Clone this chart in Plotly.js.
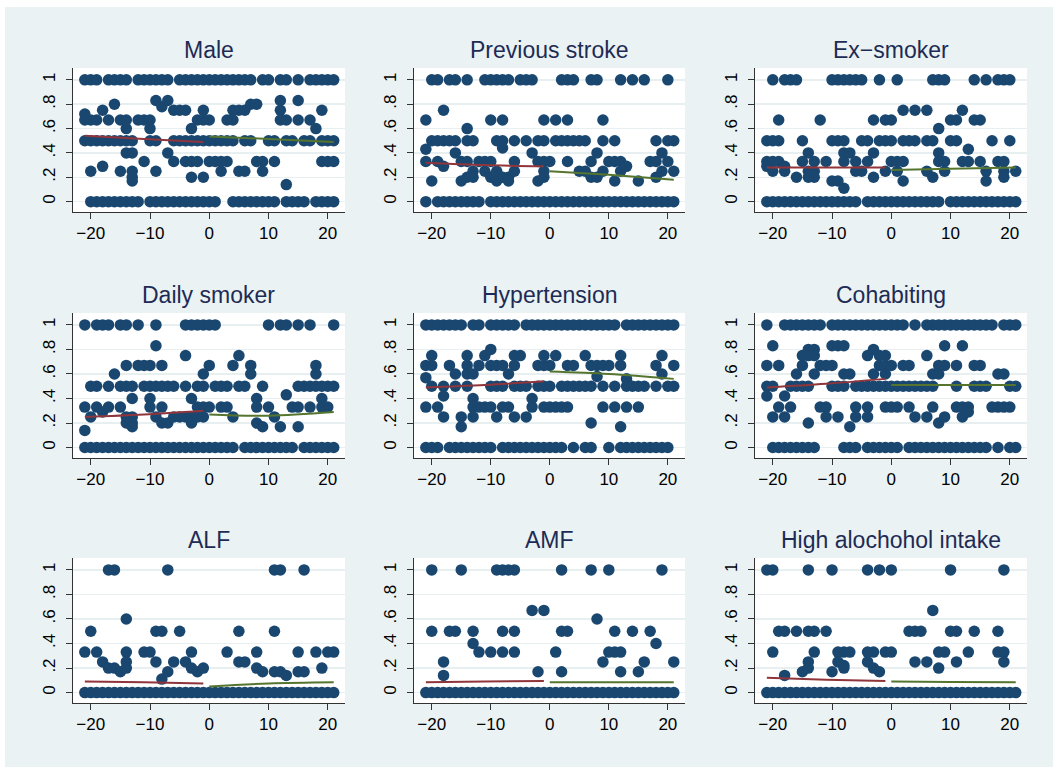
<!DOCTYPE html>
<html><head><meta charset="utf-8">
<script src="https://cdn.plot.ly/plotly-3.0.1.min.js"></script>
<style>html,body{margin:0;padding:0;background:#fff}#chart{width:1053px;height:767px}</style>
</head><body><div id="chart"></div>
<script>
// ---------- data ----------
const titles = ['Male','Previous stroke','Ex\u2212smoker','Daily smoker','Hypertension','Cohabiting','ALF','AMF','High alochohol intake'];
const xTickVals = [-20,-10,0,10,20];
const yTickVals = [0,0.2,0.4,0.6,0.8,1];
const yTickText = ['0','.2','.4','.6','.8','1'];
const fitLeftX = [-21,-11,-1];
const fitRightX = [0,10,21];

// Male
const maleOnes = [-21,-20,-19,-17,-16,-15,-14,-12,-11,-10,-9,-8,-7,-5,-4,-3,-2,-1,0,1,2,3,4,5,6,7,9,10,12,13,15,17,18,19,20,21];
const maleZeros = [-20,-19,-18,-17,-16,-15,-14,-13,-12,-10,-9,-8,-7,-6,-5,-4,-3,-2,-1,0,1,4,5,6,7,8,9,10,11,13,14,15,16,18,19,20,21];
const maleMid = [[-21,.72],[-21,.67],[-21,.5],[-20,.67],[-20,.5],[-20,.25],[-19,.67],[-19,.5],[-18,.75],[-18,.5],[-18,.29],[-17,.67],[-17,.5],[-16,.8],[-16,.5],[-15,.67],[-15,.5],[-15,.25],[-14,.67],[-14,.6],[-14,.5],[-14,.4],[-13,.5],[-13,.4],[-13,.25],[-13,.2],[-13,.17],[-12,.67],[-11,.67],[-11,.33],[-10,.67],[-10,.6],[-10,.5],[-9,.83],[-9,.5],[-9,.25],[-8,.78],[-7,.83],[-7,.4],[-6,.75],[-6,.5],[-6,.33],[-5,.75],[-5,.5],[-4,.75],[-4,.5],[-4,.33],[-3,.6],[-3,.5],[-3,.33],[-3,.2],[-2,.67],[-2,.5],[-2,.33],[-1,.75],[-1,.67],[-1,.5],[-1,.2],[0,.67],[0,.5],[0,.33],[1,.5],[1,.33],[2,.5],[2,.33],[2,.25],[3,.67],[3,.5],[3,.33],[4,.75],[4,.67],[4,.5],[5,.75],[5,.25],[6,.75],[6,.5],[6,.25],[7,.8],[7,.5],[8,.8],[8,.33],[9,.33],[9,.25],[10,.5],[11,.5],[11,.33],[12,.83],[12,.75],[12,.67],[13,.67],[13,.5],[13,.14],[14,.5],[15,.83],[15,.67],[16,.5],[17,.67],[17,.5],[18,.6],[19,.75],[19,.5],[19,.33],[20,.5],[20,.33],[21,.5],[21,.33]];
const maleFitL = [.54,.515,.49];
const maleFitR = [.535,.515,.49];

// Previous stroke
const strokeOnes = [-20,-19,-17,-16,-14,-11,-10,-9,-8,-7,-5,-4,-3,2,3,4,7,8,12,14,16,20];
const strokeZeros = [-21,-19,-18,-17,-16,-15,-14,-13,-12,-10,-9,-8,-7,-6,-5,-4,-3,-2,-1,0,1,2,3,4,5,6,7,8,9,10,11,12,13,14,15,16,17,18,19,20,21];
const strokeMid = [[-21,.67],[-21,.43],[-21,.33],[-20,.5],[-20,.17],[-19,.5],[-19,.33],[-18,.75],[-18,.5],[-18,.29],[-17,.5],[-16,.5],[-16,.4],[-15,.33],[-15,.17],[-14,.6],[-14,.5],[-14,.33],[-14,.2],[-13,.5],[-13,.25],[-13,.2],[-12,.33],[-11,.33],[-11,.25],[-10,.67],[-10,.33],[-10,.2],[-9,.5],[-9,.25],[-9,.17],[-8,.67],[-8,.5],[-8,.44],[-8,.2],[-7,.2],[-7,.17],[-6,.5],[-6,.33],[-6,.25],[-4,.5],[-3,.4],[-2,.5],[-2,.33],[-2,.17],[-1,.67],[-1,.5],[-1,.33],[-1,.25],[-1,.2],[0,.33],[1,.67],[1,.5],[2,.5],[3,.67],[3,.5],[3,.33],[4,.5],[5,.5],[5,.25],[6,.5],[6,.25],[7,.33],[7,.2],[8,.4],[8,.2],[9,.67],[9,.5],[9,.25],[10,.33],[11,.5],[11,.33],[11,.17],[12,.33],[12,.25],[13,.29],[15,.17],[17,.33],[18,.5],[18,.33],[18,.2],[19,.4],[19,.25],[20,.5],[20,.33],[21,.5],[21,.25]];
const strokeFitL = [.32,.30,.29];
const strokeFitR = [.25,.22,.18];

// Ex-smoker
const exOnes = [-20,-18,-17,-16,-10,-9,-8,-7,-6,-5,-2,1,7,8,9,14,16,18,19,20];
const exZeros = [-21,-20,-19,-18,-17,-16,-15,-14,-13,-12,-11,-10,-9,-8,-7,-6,-4,-3,-2,-1,0,1,2,3,4,5,6,7,8,10,11,12,13,14,15,16,17,18,19,20,21];
const exMid = [[-21,.5],[-21,.33],[-21,.29],[-20,.5],[-20,.33],[-20,.25],[-19,.67],[-19,.5],[-19,.33],[-18,.29],[-18,.25],[-16,.2],[-15,.5],[-15,.33],[-14,.4],[-14,.25],[-14,.2],[-13,.33],[-13,.25],[-13,.2],[-12,.67],[-11,.33],[-10,.5],[-10,.17],[-9,.5],[-9,.17],[-8,.5],[-8,.4],[-8,.33],[-8,.11],[-7,.4],[-6,.33],[-6,.25],[-5,.5],[-5,.25],[-4,.5],[-4,.33],[-3,.67],[-3,.4],[-3,.2],[-2,.5],[-1,.67],[-1,.5],[-1,.25],[0,.67],[0,.5],[0,.33],[1,.33],[1,.25],[2,.75],[2,.5],[2,.33],[2,.17],[3,.5],[4,.75],[4,.5],[6,.75],[6,.5],[6,.25],[7,.5],[7,.2],[8,.6],[8,.4],[8,.33],[9,.33],[9,.25],[10,.67],[10,.5],[11,.67],[11,.5],[12,.75],[12,.33],[13,.43],[13,.33],[14,.67],[15,.67],[15,.33],[16,.25],[16,.17],[17,.5],[18,.33],[19,.33],[19,.25],[19,.2],[20,.5],[21,.25]];
const exFitL = [.28,.28,.28];
const exFitR = [.26,.27,.28];

// Daily smoker
const dailyOnes = [-21,-19,-18,-17,-15,-14,-12,-9,-4,-3,-2,-1,0,1,10,12,13,15,17,21];
const dailyZeros = [-21,-20,-19,-18,-17,-16,-15,-14,-13,-12,-11,-10,-9,-8,-7,-6,-5,-4,-3,-2,-1,0,1,2,3,4,6,7,8,9,10,11,12,13,14,16,17,18,19,20,21];
const dailyMid = [[-21,.33],[-21,.14],[-20,.5],[-20,.25],[-19,.5],[-19,.33],[-18,.29],[-17,.5],[-17,.33],[-16,.6],[-15,.5],[-15,.33],[-14,.67],[-14,.5],[-14,.25],[-14,.2],[-13,.5],[-13,.4],[-13,.25],[-13,.2],[-13,.17],[-12,.67],[-11,.67],[-11,.5],[-10,.67],[-10,.5],[-10,.4],[-10,.33],[-9,.83],[-9,.5],[-9,.25],[-8,.67],[-8,.5],[-8,.33],[-8,.2],[-7,.5],[-7,.2],[-6,.5],[-6,.25],[-5,.25],[-4,.75],[-4,.5],[-4,.25],[-3,.4],[-3,.25],[-3,.2],[-2,.5],[-2,.33],[-2,.25],[-1,.6],[-1,.5],[-1,.33],[-1,.25],[0,.67],[0,.33],[1,.5],[2,.5],[2,.33],[3,.5],[3,.33],[4,.67],[4,.25],[5,.75],[5,.5],[6,.5],[7,.67],[7,.6],[8,.4],[8,.33],[8,.2],[9,.5],[9,.17],[10,.33],[11,.25],[12,.17],[13,.43],[14,.33],[15,.5],[15,.33],[15,.17],[16,.5],[17,.5],[17,.33],[18,.67],[18,.6],[18,.5],[19,.5],[19,.4],[19,.33],[20,.5],[20,.33],[21,.5]];
const dailyFitL = [.25,.27,.30];
const dailyFitR = [.27,.26,.29];

// Hypertension
const hyperOnes = [-21,-20,-19,-18,-17,-16,-15,-13,-12,-10,-9,-8,-7,-6,-4,-3,-2,-1,0,1,2,3,4,5,6,7,8,9,10,11,13,14,15,16,17,18,19,20,21];
const hyperZeros = [-21,-20,-19,-17,-16,-15,-14,-13,-12,-11,-10,-8,-7,-6,-5,-4,-3,-2,-1,0,1,2,4,6,7,10,12,13,14,15,16,17,18,19,20];
const hyperMid = [[-21,.67],[-21,.57],[-21,.33],[-20,.75],[-20,.67],[-20,.5],[-19,.33],[-18,.5],[-18,.42],[-18,.25],[-17,.67],[-16,.6],[-16,.5],[-15,.25],[-15,.17],[-14,.75],[-14,.67],[-14,.6],[-14,.5],[-13,.6],[-13,.4],[-13,.33],[-13,.25],[-12,.67],[-12,.33],[-11,.75],[-11,.33],[-10,.8],[-10,.67],[-10,.5],[-10,.33],[-9,.67],[-9,.5],[-9,.25],[-8,.67],[-8,.5],[-8,.33],[-7,.6],[-7,.33],[-6,.75],[-6,.67],[-6,.5],[-6,.25],[-5,.75],[-5,.5],[-4,.5],[-4,.25],[-3,.4],[-3,.33],[-2,.67],[-2,.5],[-1,.75],[-1,.67],[-1,.5],[-1,.33],[0,.67],[0,.5],[0,.33],[1,.75],[1,.33],[2,.5],[2,.33],[3,.67],[3,.5],[3,.33],[4,.67],[4,.5],[5,.5],[6,.75],[6,.5],[7,.67],[7,.5],[7,.2],[8,.67],[8,.58],[9,.67],[9,.5],[9,.33],[10,.67],[11,.5],[11,.33],[12,.75],[12,.67],[12,.17],[13,.56],[13,.5],[13,.33],[14,.5],[15,.5],[15,.33],[16,.5],[18,.67],[18,.5],[19,.75],[19,.6],[20,.5],[21,.67],[21,.5]];
const hyperFitL = [.49,.51,.54];
const hyperFitR = [.62,.60,.56];

// Cohabiting
const cohabOnes = [-21,-18,-17,-16,-15,-14,-13,-12,-10,-9,-8,-7,-6,-5,-4,-3,-2,-1,0,1,2,4,6,7,8,9,10,11,12,13,14,15,16,17,19,20,21];
const cohabZeros = [-20,-19,-18,-17,-16,-15,-14,-13,-8,-7,-6,-4,-3,-2,-1,0,1,3,4,5,6,7,8,9,10,11,12,13,14,15,16,18,20,21];
const cohabMid = [[-21,.67],[-21,.5],[-21,.42],[-20,.83],[-20,.5],[-20,.25],[-19,.67],[-19,.33],[-18,.42],[-18,.25],[-17,.5],[-17,.33],[-16,.6],[-16,.5],[-15,.75],[-15,.67],[-15,.5],[-14,.8],[-14,.75],[-14,.5],[-14,.2],[-13,.8],[-13,.75],[-13,.6],[-12,.67],[-12,.33],[-11,.67],[-11,.33],[-11,.25],[-10,.83],[-10,.67],[-10,.5],[-9,.83],[-9,.5],[-9,.25],[-8,.83],[-8,.6],[-8,.5],[-7,.6],[-7,.17],[-6,.5],[-6,.33],[-6,.25],[-5,.5],[-4,.75],[-4,.5],[-4,.33],[-4,.25],[-3,.8],[-3,.6],[-3,.5],[-2,.75],[-2,.67],[-2,.5],[-1,.75],[-1,.67],[-1,.6],[-1,.5],[-1,.33],[0,.67],[0,.5],[0,.33],[1,.5],[1,.33],[2,.67],[2,.5],[3,.67],[3,.5],[3,.33],[4,.5],[4,.25],[5,.5],[6,.75],[6,.5],[6,.25],[7,.6],[7,.5],[7,.33],[8,.67],[8,.6],[8,.2],[9,.83],[9,.67],[9,.25],[11,.67],[11,.5],[11,.33],[12,.83],[12,.33],[12,.25],[13,.33],[13,.29],[14,.67],[14,.5],[15,.67],[15,.5],[16,.5],[17,.33],[18,.6],[18,.33],[19,.6],[19,.33],[20,.5],[20,.33],[21,.5]];
const cohabFitL = [.49,.52,.56];
const cohabFitR = [.51,.51,.51];

// ALF
const alfOnes = [-17,-16,-7,11,12,16];
const alfZeros = [-21,-20,-19,-18,-17,-16,-15,-14,-13,-12,-11,-10,-9,-8,-7,-6,-5,-4,-3,-2,-1,0,1,2,3,4,5,6,7,8,9,10,11,12,13,14,15,16,17,18,19,20,21];
const alfMid = [[-21,.33],[-20,.5],[-19,.33],[-18,.25],[-17,.2],[-16,.2],[-15,.17],[-14,.6],[-14,.33],[-14,.25],[-14,.2],[-11,.33],[-10,.33],[-9,.5],[-9,.25],[-8,.5],[-8,.11],[-7,.17],[-6,.25],[-5,.5],[-4,.25],[-3,.33],[-3,.2],[-2,.17],[-1,.2],[3,.33],[5,.5],[5,.25],[6,.25],[8,.33],[8,.2],[9,.17],[11,.5],[11,.17],[12,.17],[13,.14],[15,.33],[15,.17],[16,.17],[18,.33],[19,.2],[20,.33],[21,.33]];
const alfFitL = [.09,.085,.075];
const alfFitR = [.05,.075,.085];

// AMF
const amfOnes = [-20,-15,-9,-8,-7,-6,2,7,10,19];
const amfZeros = [-21,-20,-19,-18,-17,-16,-15,-14,-13,-12,-11,-10,-9,-8,-7,-6,-5,-4,-3,-2,-1,0,1,2,3,4,5,6,7,8,9,10,11,12,13,14,15,16,17,18,19,20,21];
const amfMid = [[-20,.5],[-18,.25],[-18,.14],[-17,.5],[-16,.5],[-13,.5],[-13,.4],[-12,.33],[-10,.33],[-8,.5],[-8,.33],[-6,.5],[-6,.33],[-3,.67],[-2,.17],[-1,.67],[1,.33],[2,.5],[2,.17],[3,.5],[8,.6],[9,.25],[10,.33],[11,.5],[11,.33],[12,.33],[12,.17],[14,.5],[15,.17],[16,.25],[17,.5],[18,.4],[21,.25]];
const amfFitL = [.085,.09,.095];
const amfFitR = [.085,.085,.085];

// High alcohol intake
const alcOnes = [-21,-20,-14,-10,-4,-2,0,10,19];
const alcZeros = [-21,-20,-19,-18,-17,-16,-15,-14,-13,-12,-11,-10,-9,-8,-7,-6,-5,-4,-3,-2,-1,0,1,2,3,4,5,6,7,8,9,10,11,12,13,14,15,16,17,18,19,20,21];
const alcMid = [[-20,.33],[-19,.5],[-18,.5],[-18,.14],[-16,.5],[-15,.17],[-14,.5],[-14,.25],[-14,.2],[-13,.5],[-13,.33],[-11,.5],[-10,.17],[-9,.33],[-9,.25],[-8,.33],[-8,.22],[-8,.2],[-7,.33],[-4,.33],[-4,.25],[-3,.33],[-3,.2],[-2,.17],[-1,.33],[0,.33],[3,.5],[4,.5],[4,.25],[5,.5],[6,.25],[7,.67],[8,.33],[8,.2],[9,.33],[10,.5],[11,.5],[11,.25],[13,.33],[14,.5],[18,.5],[18,.33],[19,.33],[19,.25]];
const alcFitL = [.12,.105,.095];
const alcFitR = [.09,.087,.085];

const panels = [
  [maleOnes, maleZeros, maleMid, maleFitL, maleFitR],
  [strokeOnes, strokeZeros, strokeMid, strokeFitL, strokeFitR],
  [exOnes, exZeros, exMid, exFitL, exFitR],
  [dailyOnes, dailyZeros, dailyMid, dailyFitL, dailyFitR],
  [hyperOnes, hyperZeros, hyperMid, hyperFitL, hyperFitR],
  [cohabOnes, cohabZeros, cohabMid, cohabFitL, cohabFitR],
  [alfOnes, alfZeros, alfMid, alfFitL, alfFitR],
  [amfOnes, amfZeros, amfMid, amfFitL, amfFitR],
  [alcOnes, alcZeros, alcMid, alcFitL, alcFitR]
];

// ---------- styling / layout ----------
const NAVY = '#1A476F', RED = '#90353B', GREEN = '#55752F';
const FONT = 'Liberation Sans, Arial, Helvetica, sans-serif';
const colDom = [[0.0693,0.3276],[0.3932,0.6505],[0.7170,0.9753]];
const rowDom = [[0.7236,0.9113],[0.4029,0.5919],[0.0834,0.2725]];

const traces = [];
const layout = {
  width: 1053, height: 767,
  margin: {l:0, r:0, t:0, b:0},
  paper_bgcolor: '#EAF2F3',
  plot_bgcolor: '#FFFFFF',
  showlegend: false,
  font: {family: FONT, color: '#000'},
  annotations: [],
  shapes: [
    {type:'rect', xref:'paper', yref:'paper', x0:0, x1:5/1053, y0:0, y1:1, fillcolor:'#fff', line:{width:0}, layer:'below'},
    {type:'rect', xref:'paper', yref:'paper', x0:0, x1:1, y0:1-7/767, y1:1, fillcolor:'#fff', line:{width:0}, layer:'below'}
  ]
};

panels.forEach((p, i) => {
  const [ones, zeros, mid, fitL, fitR] = p;
  const n = i + 1;
  const xa = 'x' + (n === 1 ? '' : n), ya = 'y' + (n === 1 ? '' : n);
  const px = [], py = [];
  zeros.forEach(x => { px.push(x); py.push(0); });
  mid.forEach(d => { px.push(d[0]); py.push(d[1]); });
  ones.forEach(x => { px.push(x); py.push(1); });
  traces.push({x: px, y: py, xaxis: xa, yaxis: ya, type: 'scatter', mode: 'markers',
    marker: {color: NAVY, size: 11.5, line: {width: 0}}, hoverinfo: 'skip'});
  traces.push({x: fitLeftX, y: fitL, xaxis: xa, yaxis: ya, type: 'scatter', mode: 'lines',
    line: {color: RED, width: 2, shape: 'spline'}, hoverinfo: 'skip'});
  traces.push({x: fitRightX, y: fitR, xaxis: xa, yaxis: ya, type: 'scatter', mode: 'lines',
    line: {color: GREEN, width: 2, shape: 'spline'}, hoverinfo: 'skip'});

  const r = Math.floor(i / 3), c = i % 3;
  const kx = 'xaxis' + (n === 1 ? '' : n), ky = 'yaxis' + (n === 1 ? '' : n);
  layout[kx] = {
    domain: colDom[c], anchor: ya, range: [-23, 22.9],
    tickmode: 'array', tickvals: xTickVals,
    ticks: 'outside', ticklen: 6, tickwidth: 1, tickcolor: '#333',
    showline: true, linecolor: '#333', linewidth: 1,
    showgrid: false, zeroline: false,
    tickfont: {family: FONT, size: 17, color: '#000'}
  };
  layout[ky] = {
    domain: rowDom[r], anchor: xa, range: [-0.085, 1.097],
    tickmode: 'array', tickvals: yTickVals, ticktext: yTickText,
    tickangle: -90,
    ticks: 'outside', ticklen: 6, tickwidth: 1, tickcolor: '#333',
    showline: true, linecolor: '#333', linewidth: 1,
    showgrid: true, gridcolor: '#E8EFF1', gridwidth: 1.5, zeroline: false,
    ticklabelstandoff: 4,
    tickfont: {family: FONT, size: 17, color: '#000'}
  };
  layout.annotations.push({
    text: titles[i], xref: 'paper', yref: 'paper',
    x: (colDom[c][0] + colDom[c][1]) / 2, y: rowDom[r][1],
    xanchor: 'center', yanchor: 'bottom', yshift: 3, showarrow: false,
    font: {family: FONT, size: 23, color: '#1E2B55'}
  });
});

Plotly.newPlot('chart', traces, layout, {staticPlot: true, displayModeBar: false});
</script>
</body></html>
